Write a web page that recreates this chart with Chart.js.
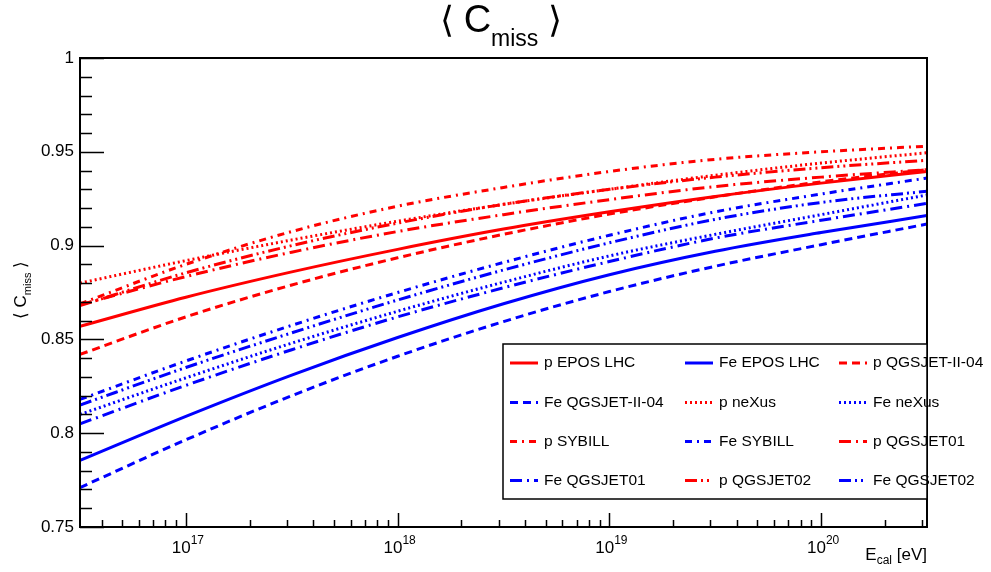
<!DOCTYPE html>
<html>
<head>
<meta charset="utf-8">
<script src="https://cdn.jsdelivr.net/npm/chart.js@4.4.1/dist/chart.umd.min.js"></script>
<style>
  html, body { margin: 0; padding: 0; background: #fff; }
  #wrap { width: 991px; height: 572px; }
</style>
</head>
<body>
<div id="wrap"><canvas id="chart" width="991" height="572"></canvas></div>
<script>
// calorimetric energy (eV), sampled every half decade
const energies = [3.162e16, 1e17, 3.162e17, 1e18, 3.162e18, 1e19, 3.162e19, 1e20, 3.162e20];

// <C_miss> per primary / hadronic model
const pEposLhc   = [0.857, 0.8725, 0.886, 0.898, 0.9088, 0.918, 0.9262, 0.9333, 0.9395];
const feEposLhc  = [0.7855, 0.809, 0.831, 0.851, 0.869, 0.8845, 0.897, 0.907, 0.916];
const pQgsjetII  = [0.842, 0.862, 0.879, 0.8935, 0.906, 0.9168, 0.926, 0.934, 0.9405];
const feQgsjetII = [0.771, 0.7965, 0.820, 0.841, 0.8595, 0.8755, 0.889, 0.9005, 0.9115];
const pNexus     = [0.880, 0.892, 0.903, 0.913, 0.922, 0.930, 0.9375, 0.944, 0.9495];
const feNexus    = [0.810, 0.8295, 0.848, 0.865, 0.8805, 0.8945, 0.906, 0.9165, 0.927];
const pSybill    = [0.869, 0.890, 0.9075, 0.921, 0.931, 0.9395, 0.946, 0.950, 0.953];
const feSybill   = [0.818, 0.8385, 0.8575, 0.875, 0.891, 0.9055, 0.918, 0.9275, 0.936];
const pQgsjet01  = [0.8685, 0.8835, 0.8965, 0.9075, 0.9165, 0.9245, 0.9315, 0.9365, 0.9405];
const feQgsjet01 = [0.805, 0.8255, 0.8445, 0.862, 0.8775, 0.8915, 0.904, 0.9135, 0.9225];
const pQgsjet02  = [0.868, 0.8855, 0.900, 0.912, 0.922, 0.930, 0.9365, 0.9415, 0.9455];
const feQgsjet02 = [0.815, 0.835, 0.8535, 0.871, 0.887, 0.9015, 0.914, 0.923, 0.929];

const yTickValues = [0.75, 0.8, 0.85, 0.9, 0.95, 1];
const yTickLabels = ["0.75", "0.8", "0.85", "0.9", "0.95", "1"];
const xTickValues = [1e17, 1e18, 1e19, 1e20];
const xTickExps   = ["17", "18", "19", "20"];

const RED = "#ff0000", BLUE = "#0000ff";
const DASH = {
  solid: [],
  dashed: [8, 5],
  dotted: [2, 3],
  dashDot: [7, 5, 2, 5],
  longDashDot: [12, 5, 2, 5],
  longDashDotDot: [12, 4, 2, 4, 2, 4]
};

function series(label, vals, color, dash) {
  return {
    label,
    data: vals.map((v, i) => ({ x: energies[i], y: v })),
    borderColor: color,
    borderWidth: 3,
    borderDash: dash,
    pointRadius: 0,
    cubicInterpolationMode: "monotone",
    fill: false
  };
}

// legend order is row-major, 3 columns
const datasets = [
  series("p EPOS LHC", pEposLhc, RED, DASH.solid),
  series("Fe EPOS LHC", feEposLhc, BLUE, DASH.solid),
  series("p QGSJET-II-04", pQgsjetII, RED, DASH.dashed),
  series("Fe QGSJET-II-04", feQgsjetII, BLUE, DASH.dashed),
  series("p neXus", pNexus, RED, DASH.dotted),
  series("Fe neXus", feNexus, BLUE, DASH.dotted),
  series("p SYBILL", pSybill, RED, DASH.dashDot),
  series("Fe SYBILL", feSybill, BLUE, DASH.dashDot),
  series("p QGSJET01", pQgsjet01, RED, DASH.longDashDot),
  series("Fe QGSJET01", feQgsjet01, BLUE, DASH.longDashDot),
  series("p QGSJET02", pQgsjet02, RED, DASH.longDashDotDot),
  series("Fe QGSJET02", feQgsjet02, BLUE, DASH.longDashDotDot)
];

const FONT = '"Liberation Sans", Arial, Helvetica, sans-serif';

// draw a run of text pieces {t, size, dy}; align: "left" | "center" | "right"
function richText(ctx, parts, x, y, align) {
  let w = 0;
  for (const p of parts) {
    ctx.font = `${p.size}px ${FONT}`;
    p.w = ctx.measureText(p.t).width;
    w += p.w;
  }
  let cx = align === "center" ? x - w / 2 : align === "right" ? x - w : x;
  ctx.textAlign = "left";
  ctx.textBaseline = "alphabetic";
  for (const p of parts) {
    ctx.font = `${p.size}px ${FONT}`;
    ctx.fillText(p.t, cx, y + (p.dy || 0));
    cx += p.w;
  }
}

const rootFrame = {
  id: "rootFrame",
  afterDraw(chart) {
    const { ctx, chartArea: a, scales: { x, y } } = chart;
    ctx.save();
    ctx.fillStyle = "#000";
    ctx.strokeStyle = "#000";

    // y ticks (inside), minor every 0.01
    ctx.lineWidth = 1.5;
    ctx.beginPath();
    for (let i = 0; i <= 25; i++) {
      const v = 0.75 + i * 0.01;
      const py = Math.round(y.getPixelForValue(v)) + 0.5;
      const len = i % 5 === 0 ? 24 : 12;
      ctx.moveTo(a.left, py);
      ctx.lineTo(a.left + len, py);
    }
    // x ticks (inside)
    for (let d = 16; d <= 20; d++) {
      for (let k = 1; k <= 9; k++) {
        const v = k * Math.pow(10, d);
        if (v < x.min || v > x.max) continue;
        const px = Math.round(x.getPixelForValue(v)) + 0.5;
        const len = k === 1 ? 14 : 7;
        ctx.moveTo(px, a.bottom);
        ctx.lineTo(px, a.bottom - len);
      }
    }
    ctx.stroke();

    // y tick labels
    ctx.font = `17px ${FONT}`;
    ctx.textAlign = "right";
    ctx.textBaseline = "middle";
    yTickValues.forEach((v, i) => ctx.fillText(yTickLabels[i], a.left - 6, y.getPixelForValue(v)));

    // x tick labels 10^n
    xTickValues.forEach((v, i) => {
      richText(ctx, [{ t: "10", size: 17 }, { t: xTickExps[i], size: 12, dy: -9 }],
        x.getPixelForValue(v) + 2, a.bottom + 26, "center");
    });

    // frame
    ctx.lineWidth = 2;
    ctx.strokeRect(a.left, a.top, a.right - a.left, a.bottom - a.top);

    // axis titles
    richText(ctx, [{ t: "E", size: 17 }, { t: "cal", size: 12, dy: 4 }, { t: " [eV]", size: 17 }],
      a.right, a.bottom + 33, "right");

    ctx.save();
    ctx.translate(26, 290);
    ctx.rotate(-Math.PI / 2);
    richText(ctx, [{ t: "⟨ ", size: 17 }, { t: "C", size: 17 }, { t: "miss", size: 11, dy: 5 }, { t: " ⟩", size: 17 }],
      0, 0, "center");
    ctx.restore();

    // title
    richText(ctx, [{ t: "⟨ ", size: 36 }, { t: "C", size: 38 }, { t: "miss", size: 23, dy: 14 }, { t: " ⟩", size: 36 }],
      501, 32, "center");

    // legend box
    const bx = 503, by = 344, bw = a.right - bx, bh = 155;
    ctx.fillStyle = "#fff";
    ctx.fillRect(bx, by, bw, bh);
    ctx.lineWidth = 1.5;
    ctx.strokeRect(bx, by, bw, bh);
    const colSample = [510, 685, 839];
    const rowY = [363, 402.5, 441.5, 480.5];
    chart.data.datasets.forEach((ds, i) => {
      const c = i % 3, r = Math.floor(i / 3);
      const sx = colSample[c], sy = rowY[r];
      ctx.strokeStyle = ds.borderColor;
      ctx.lineWidth = 3;
      ctx.setLineDash(ds.borderDash);
      ctx.beginPath();
      ctx.moveTo(sx, sy);
      ctx.lineTo(sx + 28, sy);
      ctx.stroke();
      ctx.setLineDash([]);
      ctx.fillStyle = "#000";
      ctx.font = `15.5px ${FONT}`;
      ctx.textAlign = "left";
      ctx.textBaseline = "middle";
      ctx.fillText(ds.label, sx + 34, sy);
    });
    ctx.restore();
  }
};

new Chart(document.getElementById("chart"), {
  type: "line",
  data: { datasets },
  options: {
    responsive: false,
    animation: false,
    devicePixelRatio: 1,
    layout: { padding: { left: 80, right: 64, top: 58, bottom: 45 } },
    plugins: { legend: { display: false }, tooltip: { enabled: false } },
    scales: {
      x: { type: "logarithmic", min: 3.162e16, max: 3.162e20, display: false },
      y: { type: "linear", min: 0.75, max: 1, display: false }
    }
  },
  plugins: [rootFrame]
});
</script>
</body>
</html>
